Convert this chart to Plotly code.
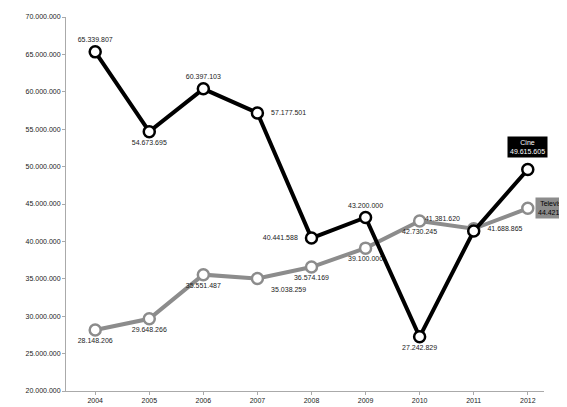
import plotly.graph_objects as go

years = [2004, 2005, 2006, 2007, 2008, 2009, 2010, 2011, 2012]
cine = [65339807, 54673695, 60397103, 57177501, 40441588, 43200000, 27242829, 41381620, 49615605]
tv = [28148206, 29648266, 35551487, 35038259, 36574169, 39100000, 42730245, 41688865, 44421512]
y_ticks = list(range(20000000, 70000001, 5000000))


def fmt(v):
    return f'{v:,}'.replace(',', '.')


cine_pos = ['top center', 'bottom center', 'top center', 'middle right', 'middle left',
            'top center', 'bottom center', 'top left', 'top center']
tv_pos = ['bottom center', 'bottom center', 'bottom center', 'bottom right', 'bottom center',
          'bottom center', 'bottom center', 'middle right', 'middle right']

cine_txt = ['   ' + fmt(v) + '   ' if p.endswith(('right', 'left')) else fmt(v) for v, p in zip(cine, cine_pos)]
tv_txt = ['   ' + fmt(v) + '   ' if p.endswith(('right', 'left')) else fmt(v) for v, p in zip(tv, tv_pos)]
cine_txt[-1] = ''
tv_txt[-1] = ''

fig = go.Figure()
fig.add_trace(go.Scatter(
    x=years, y=tv, mode='lines+markers+text', text=tv_txt, textposition=tv_pos,
    textfont=dict(size=7, color='#222'),
    line=dict(color='#8c8c8c', width=4),
    marker=dict(size=11, color='white', line=dict(color='#8c8c8c', width=2.5)),
    cliponaxis=False))
fig.add_trace(go.Scatter(
    x=years, y=cine, mode='lines+markers+text', text=cine_txt, textposition=cine_pos,
    textfont=dict(size=7, color='#222'),
    line=dict(color='black', width=4),
    marker=dict(size=11, color='white', line=dict(color='black', width=2.5)),
    cliponaxis=False))

fig.add_annotation(x=years[-1], y=cine[-1], text='Cine<br>' + fmt(cine[-1]), showarrow=False,
                   yshift=22, font=dict(size=7, color='white'), bgcolor='black', borderpad=2)
fig.add_annotation(x=years[-1], y=tv[-1], text='Televisión<br>' + fmt(tv[-1]), showarrow=False,
                   xanchor='left', xshift=7, font=dict(size=7, color='black'), bgcolor='#8c8c8c',
                   borderpad=2)

fig.update_xaxes(range=[2003.46, 2012.3], tickvals=years, ticks='outside', ticklen=3,
                 tickcolor='#aaa', showgrid=False, showline=True, linecolor='#aaa',
                 tickfont=dict(size=7, color='#222'))
fig.update_yaxes(range=[20000000, 70000000], tickvals=y_ticks, ticktext=[fmt(v) for v in y_ticks],
                 ticks='outside', ticklen=3, tickcolor='#aaa', showgrid=False, showline=True,
                 linecolor='#aaa', tickfont=dict(size=7, color='#222'))
fig.update_layout(width=567, height=407, showlegend=False, plot_bgcolor='white',
                  paper_bgcolor='white', font=dict(family='Liberation Sans'),
                  margin=dict(l=58, r=31, t=5, b=24))
fig.write_html('out.html')
